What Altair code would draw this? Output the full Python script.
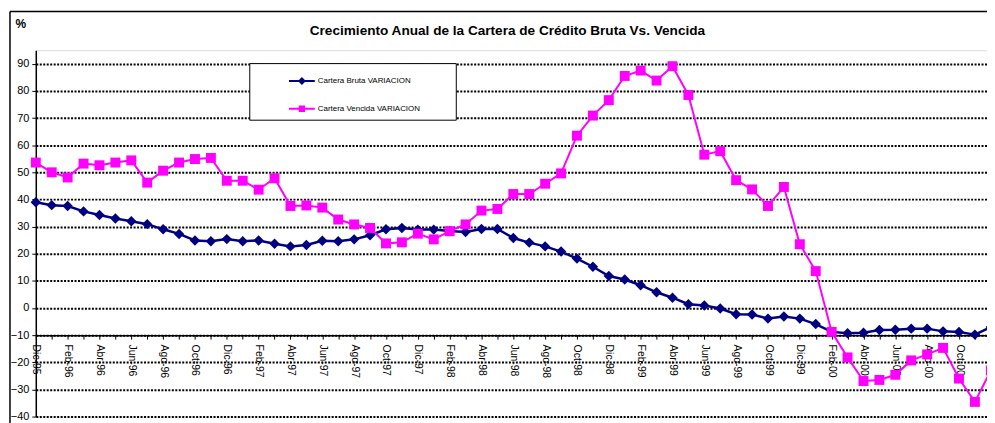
import json
import altair as alt
import pandas as pd

FONT = "Liberation Sans"

# Monthly categories (Dic-95 .. Dic-00)
meses = [
    "Dic-95",
    "Ene-96", "Feb-96", "Mar-96", "Abr-96", "May-96", "Jun-96", "Jul-96", "Ago-96", "Sep-96", "Oct-96", "Nov-96", "Dic-96",
    "Ene-97", "Feb-97", "Mar-97", "Abr-97", "May-97", "Jun-97", "Jul-97", "Ago-97", "Sep-97", "Oct-97", "Nov-97", "Dic-97",
    "Ene-98", "Feb-98", "Mar-98", "Abr-98", "May-98", "Jun-98", "Jul-98", "Ago-98", "Sep-98", "Oct-98", "Nov-98", "Dic-98",
    "Ene-99", "Feb-99", "Mar-99", "Abr-99", "May-99", "Jun-99", "Jul-99", "Ago-99", "Sep-99", "Oct-99", "Nov-99", "Dic-99",
    "Ene-00", "Feb-00", "Mar-00", "Abr-00", "May-00", "Jun-00", "Jul-00", "Ago-00", "Sep-00", "Oct-00", "Nov-00", "Dic-00",
]

cartera_bruta = [
    39.0, 37.9, 37.6, 35.6, 34.3, 33.0, 32.0, 30.9, 29.0, 27.3,
    24.9, 24.6, 25.4, 24.6, 24.9, 23.7, 22.7, 23.2, 24.8, 24.6,
    25.3, 26.8, 29.0, 29.5, 28.9, 28.9, 28.4, 28.0, 29.1, 29.1,
    25.8, 24.1, 22.7, 20.8, 18.2, 15.2, 11.8, 10.5, 8.4, 5.8,
    3.8, 1.4, 0.9, -0.2, -2.3, -2.4, -3.9, -3.1, -3.9, -5.9,
    -8.8, -9.3, -9.1, -8.1, -8.0, -7.6, -7.6, -8.6, -8.8, -9.8,
    -7.0,
]

cartera_vencida = [
    53.6, 50.0, 48.1, 53.2, 52.6, 53.6, 54.4, 46.2, 50.6, 53.6,
    54.9, 55.3, 46.9, 46.9, 43.6, 47.8, 37.6, 37.8, 37.0, 32.6,
    30.8, 29.5, 23.8, 24.2, 27.4, 25.3, 28.3, 30.8, 35.9, 36.5,
    42.0, 42.0, 45.8, 49.6, 63.5, 70.9, 76.6, 85.5, 87.5, 83.8,
    89.1, 78.5, 56.5, 57.8, 47.1, 43.7, 37.6, 44.6, 23.5, 13.6,
    -8.8, -18.2, -26.9, -26.5, -24.6, -19.3, -17.1, -14.7, -26.0, -34.6,
    -23.0,
]

SERIES = ["Cartera Bruta VARIACION", "Cartera Vencida VARIACION"]
COLORS = ["#000080", "#FF00FF"]
TITLE = "Crecimiento Anual de la Cartera de Crédito Bruta Vs. Vencida"
y_ticks = list(range(-40, 100, 10))

rows = []
for i, m in enumerate(meses):
    rows.append({"idx": i, "mes": m, "serie": SERIES[0], "valor": cartera_bruta[i]})
    rows.append({"idx": i, "mes": m, "serie": SERIES[1], "valor": cartera_vencida[i]})
df = pd.DataFrame(rows)

W, H = 958, 369
Y_DOMAIN = [-40, 95]
axis_offset = -(H * 30 / (Y_DOMAIN[1] - Y_DOMAIN[0]))  # x axis crosses at y = -10

lbls = [m if i % 2 == 0 else "" for i, m in enumerate(meses)]
label_expr = json.dumps(lbls) + "[datum.value]"

x_enc = alt.X(
    "idx:Q",
    scale=alt.Scale(domain=[0, 59.76], nice=False, zero=False),
    axis=alt.Axis(
        values=list(range(0, 60)),
        labelExpr=label_expr,
        labelAngle=90,
        labelFont=FONT,
        labelFontSize=10.5,
        labelColor="black",
        labelPadding=5,
        labelOverlap=False,
        labelFlush=False,
        labelBound=False,
        grid=False,
        domainColor="black",
        domainWidth=1.5,
        tickColor="black",
        tickSize=4,
        offset=axis_offset,
        title=None,
    ),
)

y_enc = alt.Y(
    "valor:Q",
    scale=alt.Scale(domain=Y_DOMAIN, nice=False, zero=False),
    axis=alt.Axis(
        values=y_ticks,
        grid=True,
        gridColor="black",
        gridDash=[2, 1.5],
        gridWidth=2,
        domainColor="black",
        domainWidth=1.5,
        tickColor="black",
        tickSize=4,
        labelFont=FONT,
        labelFontSize=11,
        labelColor="black",
        labelPadding=3,
        title="%",
        titleAngle=0,
        titleX=-21,
        titleY=-23,
        titleAlign="left",
        titleBaseline="alphabetic",
        titleFont=FONT,
        titleFontSize=12,
        titleFontWeight="bold",
        titleColor="black",
    ),
)

base = alt.Chart(df).encode(x=x_enc, y=y_enc)
bruta = base.transform_filter(alt.datum.serie == SERIES[0])
vencida = base.transform_filter(alt.datum.serie == SERIES[1])

line_b = bruta.mark_line(color=COLORS[0], strokeWidth=2.5)
line_v = vencida.mark_line(color=COLORS[1], strokeWidth=2)
pts_b = bruta.mark_point(shape="diamond", filled=True, size=110, opacity=1, color=COLORS[0])
pts_v = vencida.mark_point(shape="square", filled=True, size=100, opacity=1, color=COLORS[1])

# trailing no-break spaces widen the legend box; the zero-width space keeps them from being trimmed
PAD = "\u00a0" * 14 + "\u200b"
leg = alt.Legend(
    orient="none",
    legendX=215,
    legendY=13,
    title=None,
    symbolSize=676,
    symbolStrokeWidth=2,
    labelFont=FONT,
    labelFontSize=8,
    labelColor="black",
    labelLimit=0,
    labelExpr="datum.label + '" + PAD + "'",
    strokeColor="black",
    fillColor="white",
    padding=4,
    rowPadding=7,
    symbolOffset=35,
    labelOffset=2,
)

P_DIAMOND = "M-1,0L1,0M0,-0.2L0.2,0L0,0.2L-0.2,0Z"
P_SQUARE = "M-1,0L1,0M-0.17,-0.17L0.17,-0.17L0.17,0.17L-0.17,0.17Z"

legend_layer = alt.Chart(df).transform_filter("false").mark_point(opacity=1, filled=True).encode(
    x=x_enc,
    y=y_enc,
    shape=alt.Shape("serie:N", scale=alt.Scale(domain=SERIES, range=[P_DIAMOND, P_SQUARE]), legend=leg),
    fill=alt.Fill("serie:N", scale=alt.Scale(domain=SERIES, range=COLORS), legend=leg),
    stroke=alt.Stroke("serie:N", scale=alt.Scale(domain=SERIES, range=COLORS), legend=leg),
)

frame_top = alt.Chart(alt.Data(values=[{}])).mark_rule(color="black", strokeWidth=1.5).encode(
    x=alt.value(-26), x2=alt.value(1000), y=alt.value(-39)
)
frame_left = alt.Chart(alt.Data(values=[{}])).mark_rule(color="black", strokeWidth=1.5).encode(
    x=alt.value(-26), y=alt.value(-39), y2=alt.value(400)
)

chart = (
    alt.layer(frame_top, frame_left, line_b, line_v, pts_b, pts_v, legend_layer)
    .properties(
        width=W,
        height=H,
        autosize=alt.AutoSizeParams(type="none"),
        padding={"left": 28, "top": 41, "right": 0, "bottom": 8},
        title=alt.TitleParams(
            TITLE,
            font=FONT,
            fontSize=13.7,
            fontWeight="bold",
            color="black",
            anchor="middle",
            dx=-4,
            offset=-27,
        ),
    )
    .configure_view(stroke="#808080", strokeWidth=1)
    .configure(background="white")
)

chart.save("out.html", embed_options={"renderer": "svg", "actions": False})
